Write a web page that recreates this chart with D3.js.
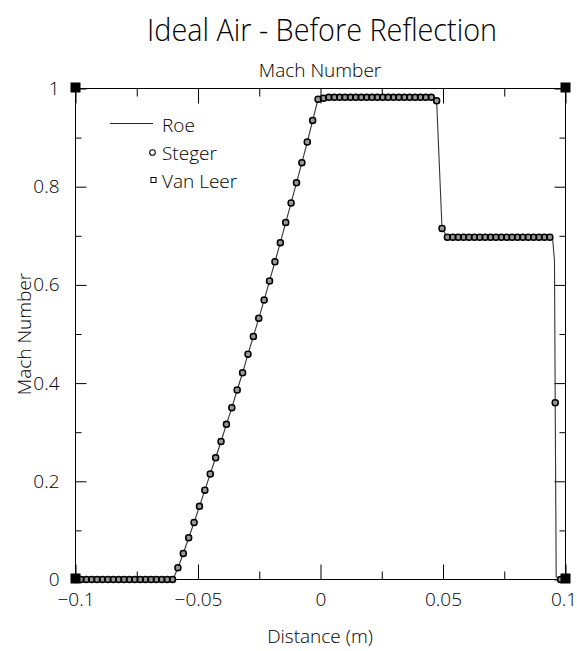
<!DOCTYPE html>
<html><head><meta charset="utf-8">
<script src="https://cdn.jsdelivr.net/npm/d3@7"></script>
<style>
html,body{margin:0;padding:0;background:#fff;}
svg{display:block;font-family:"Open Sans",Roboto,"DejaVu Sans",sans-serif;font-weight:300;}
</style></head><body>
<svg id="chart" width="577" height="651"></svg>
<script>
// ---- data ----
const distance = [
 -0.1,-0.0978,-0.0956,-0.0934,-0.0912,-0.089,-0.0868,-0.0846,-0.0824,-0.0802,
 -0.078,-0.0758,-0.0736,-0.0714,-0.0692,-0.067,-0.0648,-0.0626,-0.0604,-0.0582,
 -0.056,-0.0538,-0.0516,-0.0494,-0.0472,-0.045,-0.0428,-0.0406,-0.0384,-0.0362,
 -0.034,-0.0318,-0.0296,-0.0274,-0.0252,-0.023,-0.0208,-0.0186,-0.0164,-0.0142,
 -0.012,-0.0098,-0.0076,-0.0054,-0.0032,-0.001,0.0012,0.0034,0.0056,0.0078,
 0.01,0.0122,0.0144,0.0166,0.0188,0.021,0.0232,0.0254,0.0276,0.0298,
 0.032,0.0342,0.0364,0.0386,0.0408,0.043,0.0452,0.0474,0.0496,0.0518,
 0.054,0.0562,0.0584,0.0606,0.0628,0.065,0.0672,0.0694,0.0716,0.0738,
 0.076,0.0782,0.0804,0.0826,0.0848,0.087,0.0892,0.0914,0.0936,0.0958,
 0.098
];
const stegerMach = [
 0,0,0,0,0,0,0,0,0,0,
 0,0,0,0,0,0,0,0,0,0.024,
 0.053,0.085,0.116,0.149,0.182,0.215,0.248,0.281,0.316,0.350,
 0.386,0.421,0.459,0.495,0.532,0.569,0.608,0.647,0.686,0.727,
 0.767,0.808,0.849,0.891,0.935,0.978,0.980,0.982,0.982,0.982,
 0.982,0.982,0.982,0.982,0.982,0.982,0.982,0.982,0.982,0.982,
 0.982,0.982,0.982,0.982,0.982,0.982,0.982,0.975,0.715,0.697,
 0.697,0.697,0.697,0.697,0.697,0.697,0.697,0.697,0.697,0.697,
 0.697,0.697,0.697,0.697,0.697,0.697,0.697,0.697,0.697,0.36,
 0
];
const vanLeerMach = [
 0,0,0,0,0,0,0,0,0,0,
 0,0,0,0,0,0,0,0,0,0.024,
 0.053,0.085,0.116,0.149,0.182,0.215,0.248,0.281,0.316,0.350,
 0.386,0.421,0.459,0.495,0.532,0.569,0.608,0.647,0.686,0.727,
 0.767,0.808,0.849,0.891,0.935,0.978,0.980,0.982,0.982,0.982,
 0.982,0.982,0.982,0.982,0.982,0.982,0.982,0.982,0.982,0.982,
 0.982,0.982,0.982,0.982,0.982,0.982,0.982,0.975,0.715,0.697,
 0.697,0.697,0.697,0.697,0.697,0.697,0.697,0.697,0.697,0.697,
 0.697,0.697,0.697,0.697,0.697,0.697,0.697,0.697,0.697,0.36,
 0
];
const roeDistance = [
 -0.1,-0.0602,-0.0582,-0.056,-0.0538,-0.0516,-0.0494,-0.0472,-0.045,-0.0428,
 -0.0406,-0.0384,-0.0362,-0.034,-0.0318,-0.0296,-0.0274,-0.0252,-0.023,-0.0208,
 -0.0186,-0.0164,-0.0142,-0.012,-0.0098,-0.0076,-0.0054,-0.0032,-0.001,0.0012,
 0.0452,0.0474,0.0496,0.0518,0.0936,0.0947,0.0955,0.0958,0.0962,0.1
];
const roeMach = [
 0,0,0.024,0.053,0.085,0.116,0.149,0.182,0.215,0.248,
 0.281,0.316,0.350,0.386,0.421,0.459,0.495,0.532,0.569,0.608,
 0.647,0.686,0.727,0.767,0.808,0.849,0.891,0.935,0.978,0.981,
 0.982,0.975,0.715,0.697,0.697,0.697,0.65,0.36,0.005,0
];
const xMajorTicks = [-0.1,-0.05,0,0.05,0.1];
const xMajorLabels = ["\u22120.1","\u22120.05","0","0.05","0.1"];
const xMinorTicks = [-0.075,-0.025,0.025,0.075];
const yMajorTicks = [0,0.2,0.4,0.6,0.8,1];
const yMajorLabels = ["0","0.2","0.4","0.6","0.8","1"];
const yMinorTicks = [0.1,0.3,0.5,0.7,0.9];
const seriesNames = ["Roe","Steger","Van Leer"];
const titleText = "Ideal Air - Before Reflection";
const topLabel = "Mach Number";
const xLabel = "Distance (m)";
const yLabel = "Mach Number";

// ---- drawing ----
const svg = d3.select("#chart");
const x = d3.scaleLinear().domain([-0.1,0.1]).range([75.5,565.5]);
const y = d3.scaleLinear().domain([0,1]).range([579.5,88.5]);
const FS = 19;

function styleAxis(g){
  g.attr("font-family",null).attr("font-size",null);
  g.select(".domain").remove();
  g.selectAll(".tick line").attr("stroke","#000").attr("stroke-width",1);
  g.selectAll(".tick text").attr("fill","#000").style("font-size",FS+"px");
}

// bottom axis
const bottomAxis = svg.append("g").attr("transform",`translate(0,${y(0)})`)
  .call(d3.axisBottom(x).tickValues(xMajorTicks).tickFormat((d,i)=>xMajorLabels[i])
    .tickSizeInner(-15).tickSizeOuter(0).tickPadding(13)).call(styleAxis);
// keep the last label inside the page
bottomAxis.selectAll(".tick text").filter(d=>d===0.1).attr("dx",-2);
svg.append("g").attr("transform",`translate(0,${y(0)})`)
  .call(d3.axisBottom(x).tickValues(xMinorTicks).tickFormat("")
    .tickSizeInner(-8).tickSizeOuter(0)).call(styleAxis);
// top axis
svg.append("g").attr("transform",`translate(0,${y(1)})`)
  .call(d3.axisTop(x).tickValues(xMajorTicks).tickFormat("")
    .tickSizeInner(-15).tickSizeOuter(0)).call(styleAxis);
svg.append("g").attr("transform",`translate(0,${y(1)})`)
  .call(d3.axisTop(x).tickValues(xMinorTicks).tickFormat("")
    .tickSizeInner(-8).tickSizeOuter(0)).call(styleAxis);
// left axis
svg.append("g").attr("transform",`translate(${x(-0.1)},0)`)
  .call(d3.axisLeft(y).tickValues(yMajorTicks).tickFormat((d,i)=>yMajorLabels[i])
    .tickSizeInner(-11).tickSizeOuter(0).tickPadding(16)).call(styleAxis);
svg.append("g").attr("transform",`translate(${x(-0.1)},0)`)
  .call(d3.axisLeft(y).tickValues(yMinorTicks).tickFormat("")
    .tickSizeInner(-6).tickSizeOuter(0)).call(styleAxis);
// right axis
svg.append("g").attr("transform",`translate(${x(0.1)},0)`)
  .call(d3.axisRight(y).tickValues(yMajorTicks).tickFormat("")
    .tickSizeInner(-11).tickSizeOuter(0)).call(styleAxis);
svg.append("g").attr("transform",`translate(${x(0.1)},0)`)
  .call(d3.axisRight(y).tickValues(yMinorTicks).tickFormat("")
    .tickSizeInner(-6).tickSizeOuter(0)).call(styleAxis);

// frame
svg.append("rect").attr("x",x(-0.1)).attr("y",y(1))
  .attr("width",x(0.1)-x(-0.1)).attr("height",y(0)-y(1))
  .attr("fill","none").attr("stroke","#000").attr("stroke-width",1);

// Roe line
const roe = roeDistance.map((d,i)=>[d,roeMach[i]]);
svg.append("path").datum(roe)
  .attr("d",d3.line().x(d=>x(d[0])).y(d=>y(d[1])))
  .attr("fill","none").attr("stroke","#333").attr("stroke-width",1.1);

// Van Leer squares
const vl = distance.map((d,i)=>[d,vanLeerMach[i]]);
svg.append("g").selectAll("rect").data(vl).join("rect")
  .attr("x",d=>x(d[0])-2.5).attr("y",d=>y(d[1])-2.5)
  .attr("width",5).attr("height",5)
  .attr("fill","#999").attr("stroke","#222").attr("stroke-width",0.9);
// Steger circles
const st = distance.map((d,i)=>[d,stegerMach[i]]);
svg.append("g").selectAll("circle").data(st).join("circle")
  .attr("cx",d=>x(d[0])).attr("cy",d=>y(d[1])).attr("r",3.1)
  .attr("fill","none").attr("stroke","#000").attr("stroke-width",1.3);

// corner squares
const corners = [[-0.1,1],[0.1,1],[-0.1,0],[0.1,0]];
svg.append("g").selectAll("rect").data(corners).join("rect")
  .attr("x",d=>x(d[0])-5).attr("y",d=>y(d[1])-6).attr("width",10).attr("height",10)
  .attr("fill","#000");

// legend
const lg = svg.append("g");
lg.append("line").attr("x1",110).attr("x2",153).attr("y1",123.5).attr("y2",123.5)
  .attr("stroke","#222").attr("stroke-width",1.1);
lg.append("circle").attr("cx",152.5).attr("cy",152.5).attr("r",2.8)
  .attr("fill","none").attr("stroke","#000").attr("stroke-width",1.1);
lg.append("rect").attr("x",151).attr("y",177.5).attr("width",5).attr("height",5)
  .attr("fill","none").attr("stroke","#000").attr("stroke-width",1);
[131.5,159.5,187.5].forEach((by,i)=>{
  lg.append("text").attr("x",162).attr("y",by).style("font-size",FS+"px")
    .text(seriesNames[i]);
});

// titles
svg.append("text").attr("x",322).attr("y",41).attr("text-anchor","middle")
  .attr("textLength",350).attr("lengthAdjust","spacingAndGlyphs")
  .style("font-size","32px").text(titleText);
svg.append("text").attr("x",320).attr("y",77).attr("text-anchor","middle")
  .style("font-size",FS+"px").text(topLabel);
svg.append("text").attr("x",320).attr("y",643).attr("text-anchor","middle")
  .style("font-size",FS+"px").text(xLabel);
svg.append("text").attr("transform","translate(31,334) rotate(-90)")
  .attr("text-anchor","middle").style("font-size",FS+"px").text(yLabel);
</script>
</body></html>
